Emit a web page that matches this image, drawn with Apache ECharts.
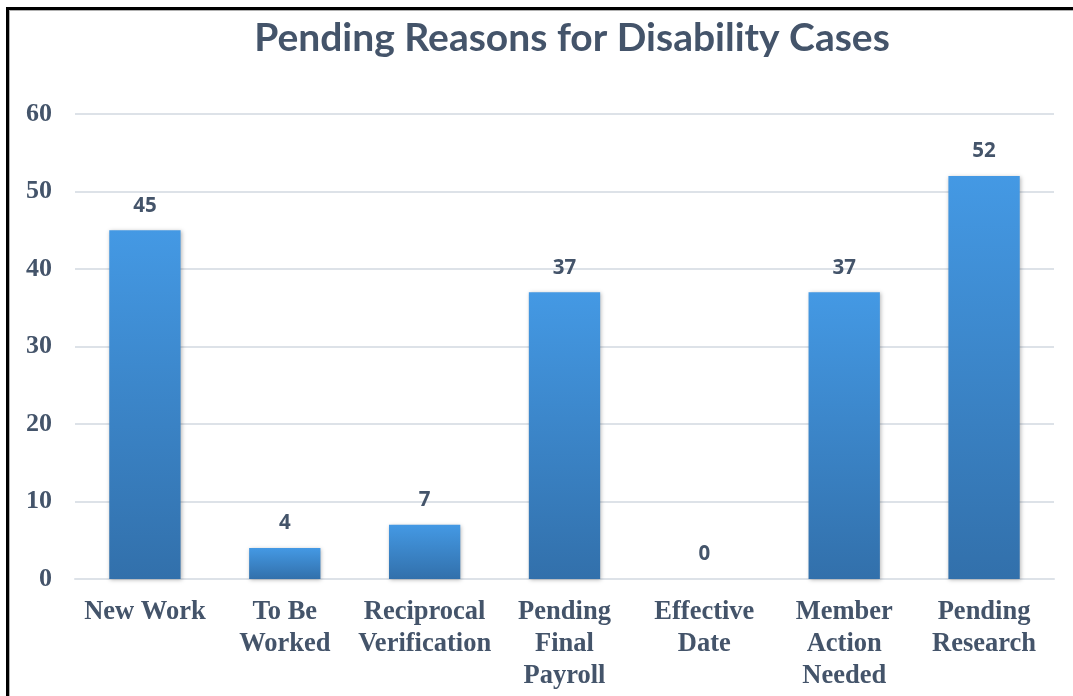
<!DOCTYPE html>
<html>
<head>
<meta charset="utf-8">
<script src="https://cdn.jsdelivr.net/npm/echarts@6/dist/echarts.min.js"></script>
<style>
  html, body { margin: 0; padding: 0; background: #ffffff; }
  #wrap { position: relative; width: 1073px; height: 696px; overflow: hidden; background: #fff; }
  #frame {
    position: absolute; left: 6px; top: 7px; width: 1200px; height: 800px;
    border-left: 3px solid #000; border-top: 3px solid #000;
    box-shadow: inset 1px 1px 0 #b0b0b0;
  }
  #chart { position: absolute; left: 0; top: 0; width: 1073px; height: 696px; }
</style>
</head>
<body>
<div id="wrap">
  <div id="frame"></div>
  <div id="chart"></div>
</div>
<script>
// Pending disability cases by reason
const categories = [
  'New Work',
  'To Be\nWorked',
  'Reciprocal\nVerification',
  'Pending\nFinal\nPayroll',
  'Effective\nDate',
  'Member\nAction\nNeeded',
  'Pending\nResearch'
];
const caseCounts = [45, 4, 7, 37, 0, 37, 52];
const yTicks = [0, 10, 20, 30, 40, 50, 60];

const titleText = 'Pending Reasons for Disability Cases';
const ink = '#44546A';

const chart = echarts.init(document.getElementById('chart'), null, { renderer: 'canvas' });

chart.setOption({
  animation: false,
  backgroundColor: 'transparent',
  graphic: [{
    type: 'text',
    x: 572,
    y: 19,
    style: {
      text: titleText,
      fill: ink,
      font: 'bold 39px Lato',
      align: 'center',
      verticalAlign: 'top'
    }
  }],
  grid: { left: 75, right: 19, top: 114, bottom: 117, containLabel: false },
  xAxis: {
    type: 'category',
    data: categories,
    axisLine: { show: true, lineStyle: { color: '#DDE2E8', width: 2 } },
    axisTick: { show: false },
    axisLabel: {
      interval: 0,
      margin: 17,
      color: ink,
      fontFamily: 'Liberation Serif',
      fontWeight: 'bold',
      fontSize: 26.5,
      lineHeight: 32
    }
  },
  yAxis: {
    type: 'value',
    min: yTicks[0],
    max: yTicks[yTicks.length - 1],
    interval: yTicks[1] - yTicks[0],
    axisLine: { show: false },
    axisTick: { show: false },
    splitLine: { lineStyle: { color: '#DDE2E8', width: 2 } },
    axisLabel: {
      margin: 23,
      color: ink,
      fontFamily: 'Liberation Serif',
      fontWeight: 'bold',
      fontSize: 26
    }
  },
  series: [{
    type: 'bar',
    data: caseCounts,
    barWidth: '51%',
    itemStyle: {
      color: new echarts.graphic.LinearGradient(0, 0, 0, 1, [
        { offset: 0, color: '#4499E4' },
        { offset: 1, color: '#3270AB' }
      ]),
      shadowColor: 'rgba(0,0,0,0.28)',
      shadowBlur: 4,
      shadowOffsetX: 1,
      shadowOffsetY: 1
    },
    label: {
      show: true,
      position: 'top',
      distance: 14,
      color: ink,
      fontFamily: 'Open Sans',
      fontWeight: 'bold',
      fontSize: 20.5
    }
  }]
});
</script>
</body>
</html>
